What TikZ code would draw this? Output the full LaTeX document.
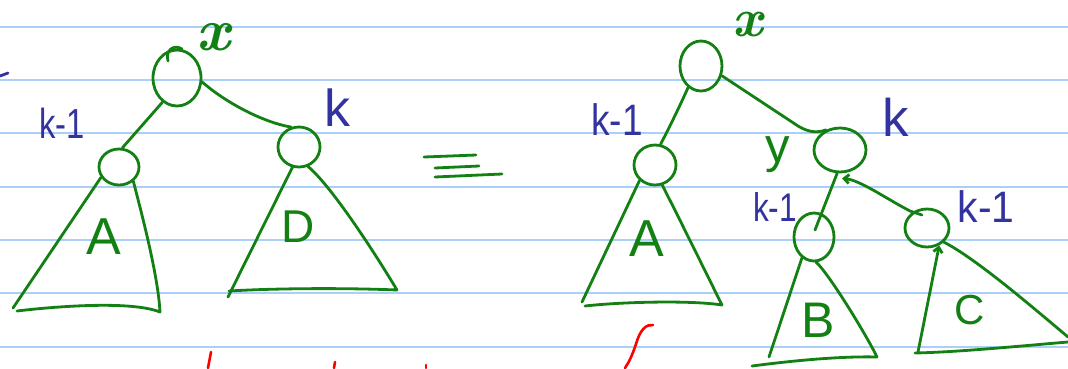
\documentclass[tikz,border=0pt]{standalone}
\usepackage{fontspec}
\setmainfont{Liberation Sans}
\newfontfamily\lmrfont{Latin Modern Roman}
\usepackage{graphicx}
\usetikzlibrary{shapes.geometric,calc,arrows.meta}
\definecolor{ink}{RGB}{18,128,18}
\definecolor{pen}{RGB}{50,50,160}
\definecolor{paperrule}{RGB}{170,208,250}
\newcommand\handsize[1]{\fontsize{#1}{#1}\selectfont}
\begin{document}
\begin{tikzpicture}[x=1pt,y=-1pt,
  inkline/.style={draw=ink,line width=2.8pt,line cap=round,line join=round},
  knode/.style={ellipse,draw=ink,line width=2.8pt,inner sep=0pt},
  blab/.style={text=pen,inner sep=0pt},
  glab/.style={text=ink,inner sep=0pt},
  paper/.style={draw=paperrule,line width=2.2pt},
  redink/.style={draw=red,line width=2.6pt,line cap=round},
  barb/.style={-{Straight Barb[length=5pt,width=9pt]}}]
\useasboundingbox (0,0) rectangle (1068,368);
\fill[white] (0,0) rectangle (1068,368);
\foreach \yy in {27,80,133,187,240,293,347} \draw[paper] (0,\yy) -- (1068,\yy);

% ---------- left tree ----------
\node[knode,minimum width=48pt,minimum height=56pt] (r1) at (177,78) {};
\node[knode,minimum width=40pt,minimum height=36pt] (a1) at (119,167) {};
\node[knode,minimum width=42pt,minimum height=40pt] (d1) at (299,147) {};

\node[glab,font=\lmrfont\bfseries\itshape\handsize{60}] (x1) at (213,37) {x};
\node[blab,font=\handsize{42}] (k1a) at (62,123) {\scalebox{0.78}[1]{k-1}};
\node[blab,font=\handsize{52}] (k1b) at (337,108) {k};
\node[glab,font=\handsize{52}] (tA) at (104,237) {A};
\node[glab,font=\handsize{46}] (tD) at (298,227) {D};

\draw[inkline] (168,61) .. controls (165,50) and (174,44) .. (182,49);
\draw[inkline] (r1.-121) -- (a1.80);
\draw[inkline] (r1.-9) .. controls (225,102) and (262,122) .. (d1.112);

\coordinate (tA1) at (13,308);
\coordinate (tA2) at (17,311);
\coordinate (tA3) at (160,312);
\draw[inkline] (a1.-150) -- (tA1);
\draw[inkline] (tA2) .. controls (50,307) and (130,300) .. (tA3)
  .. controls (158,275) and (142,215) .. (a1.-45);

\coordinate (tD1) at (228,297);
\coordinate (tD2) at (229,291);
\coordinate (tD3) at (397,290);
\draw[inkline] (d1.-108) -- (tD1);
\draw[inkline] (tD2) .. controls (280,288) and (350,288) .. (tD3)
  .. controls (370,245) and (330,185) .. (d1.-65);

% ---------- equivalence sign ----------
\draw[inkline] (424,157) -- (476,155);
\draw[inkline] (435,168) -- (479,166);
\draw[inkline] (435,177) -- (502,174);

% ---------- right tree ----------
\node[knode,minimum width=42pt,minimum height=50pt] (r2) at (701,66) {};
\node[knode,minimum width=42pt,minimum height=40pt] (a2) at (655,165) {};
\node[knode,minimum width=52pt,minimum height=44pt] (y2) at (840,150) {};
\node[knode,minimum width=40pt,minimum height=48pt] (b2) at (814,237) {};
\node[knode,minimum width=44pt,minimum height=38pt] (c2) at (927,228) {};

\node[glab,font=\lmrfont\bfseries\itshape\handsize{40}] (x2) at (748,25) {\scalebox{1.35}{x}};
\node[blab,font=\handsize{44}] (k2a) at (617,120) {\scalebox{0.84}[1]{k-1}};
\node[blab,font=\handsize{53}] (k2b) at (896,117) {k};
\node[glab,font=\handsize{49}] (ylab) at (778,155) {y};
\node[blab,font=\handsize{40}] (k2c) at (775,207) {\scalebox{0.79}[1]{k-1}};
\node[blab,font=\handsize{44}] (k2d) at (986,207) {\scalebox{0.93}[1]{k-1}};
\node[glab,font=\handsize{52}] (uA) at (647,239) {A};
\node[glab,font=\handsize{50}] (uB) at (818,320) {B};
\node[glab,font=\handsize{42}] (uC) at (970,310) {C};

\draw[inkline] (r2.-121) .. controls (678,110) and (668,130) .. (a2.75);
\draw[inkline] (r2.-25) -- (795,124) .. controls (805,131) and (815,134) .. (y2.125);
\draw[inkline] (y2.-97) -- ($(b2)+(1,-7)$);
\coordinate (yend) at ($(y2.south)+(2,5)$);
\draw[inkline,barb] ($(c2)+(-5,-13)$) -- (910,211) .. controls (885,198) and (860,180) .. (yend);

\coordinate (uA1) at (582,302);
\coordinate (uA2) at (585,306);
\coordinate (uA3) at (722,305);
\draw[inkline] (a2.-135) -- (uA1);
\draw[inkline] (uA2) .. controls (620,302) and (690,300) .. (uA3)
  .. controls (712,285) and (685,230) .. (a2.-70);

\coordinate (vB1) at (769,357);
\coordinate (vB2) at (752,366);
\coordinate (vB3) at (877,357);
\draw[inkline] (b2.-120) -- (vB1);
\draw[inkline] (vB2) .. controls (790,361) and (840,356) .. (vB3)
  .. controls (868,338) and (830,275) .. (b2.-85);

\coordinate (wC1) at (918,352);
\coordinate (wC2) at (915,353);
\coordinate (wC3) at (1068,342);
\coordinate (wC4) at (1068,337);
\draw[inkline,barb] (wC1) -- (c2.-55);
\draw[inkline] (wC2) .. controls (960,352) and (1020,346) .. (wC3);
\draw[inkline] (c2.-40) .. controls (975,258) and (1030,305) .. (wC4);

% ---------- stray marks ----------
\draw[draw=pen,line width=2.8pt,line cap=round] (0,76) -- (8,73);
\draw[redink] (211,352) -- (208,368);
\draw[redink] (335,362) -- (334,368);
\draw[redink] (426,365) -- (426,368);
\draw[redink] (653,325) .. controls (646,324) and (640,330) .. (636,344)
  .. controls (632,356) and (629,362) .. (625,368);
\end{tikzpicture}
\end{document}
